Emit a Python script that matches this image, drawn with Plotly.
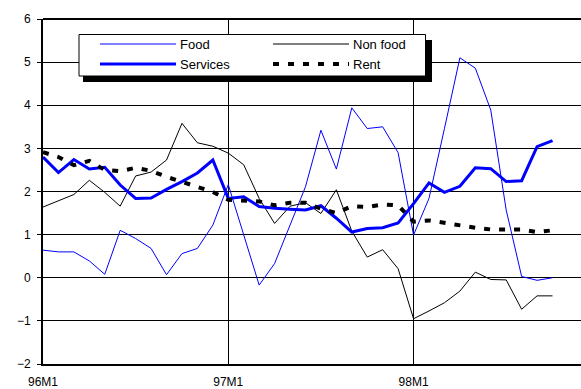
import plotly.graph_objects as go

# Monthly periods, 96M1 to 98M10
months = [
    "96M1", "96M2", "96M3", "96M4", "96M5", "96M6", "96M7", "96M8", "96M9", "96M10", "96M11", "96M12",
    "97M1", "97M2", "97M3", "97M4", "97M5", "97M6", "97M7", "97M8", "97M9", "97M10", "97M11", "97M12",
    "98M1", "98M2", "98M3", "98M4", "98M5", "98M6", "98M7", "98M8", "98M9", "98M10",
]

food = [0.64, 0.60, 0.60, 0.39, 0.08, 1.10, 0.91, 0.68, 0.07, 0.56, 0.68, 1.22,
        2.16, 0.99, -0.17, 0.33, 1.20, 2.11, 3.42, 2.52, 3.94, 3.46, 3.50, 2.90,
        0.99, 1.84, 3.46, 5.10, 4.86, 3.89, 1.57, 0.03, -0.06, 0.00]

non_food = [1.64, 1.78, 1.93, 2.26, 1.98, 1.66, 2.36, 2.45, 2.73, 3.58, 3.13, 3.05,
            2.89, 2.62, 1.84, 1.26, 1.66, 1.74, 1.49, 2.04, 1.08, 0.48, 0.65, 0.21,
            -0.95, -0.77, -0.58, -0.31, 0.13, -0.04, -0.05, -0.73, -0.42, -0.42]

services = [2.80, 2.44, 2.74, 2.52, 2.56, 2.15, 1.84, 1.85, 2.05, 2.23, 2.43, 2.73,
            1.84, 1.88, 1.65, 1.61, 1.59, 1.57, 1.67, 1.38, 1.06, 1.14, 1.16, 1.27,
            1.72, 2.20, 1.98, 2.12, 2.55, 2.53, 2.23, 2.25, 3.04, 3.18]

rent = [2.91, 2.80, 2.61, 2.71, 2.50, 2.47, 2.55, 2.48, 2.34, 2.23, 2.12, 1.99,
        1.81, 1.79, 1.77, 1.68, 1.74, 1.74, 1.60, 1.50, 1.66, 1.64, 1.70, 1.68,
        1.30, 1.33, 1.27, 1.22, 1.16, 1.12, 1.13, 1.12, 1.06, 1.10]

x_ticks = ["96M1", "97M1", "98M1"]
y_ticks = [-2, -1, 0, 1, 2, 3, 4, 5, 6]

series_names = ["Food", "Non food", "Services", "Rent"]
series_values = [food, non_food, services, rent]
series_styles = [
    dict(color="#0000FF", width=1, dash="solid"),
    dict(color="#000000", width=1, dash="solid"),
    dict(color="#0000FF", width=3, dash="solid"),
    dict(color="#000000", width=4, dash="6px,9px"),
]

FONT = "Liberation Sans, Arial, sans-serif"
W, H = 581, 389
ML, MT, MB, MR = 43, 19, 25, 0
PW, PH = W - ML - MR, H - MT - MB

fig = go.Figure()
for name, vals, style in zip(series_names, series_values, series_styles):
    fig.add_trace(go.Scatter(x=months, y=vals, mode="lines", name=name,
                             line=style, showlegend=False))


def px(xp):
    return (xp - ML) / PW


def py(yp):
    return (H - MB - yp) / PH


shapes = [
    # top frame edge of the plot area
    dict(type="line", xref="paper", yref="paper", x0=0, x1=1, y0=1, y1=1,
         line=dict(color="#000000", width=2), layer="below"),
    # framed key with drop shadow
    dict(type="rect", xref="paper", yref="paper", x0=px(83), x1=px(432), y0=py(82), y1=py(40),
         fillcolor="#000000", line=dict(width=0), layer="above"),
    dict(type="rect", xref="paper", yref="paper", x0=px(79), x1=px(425.5), y0=py(76), y1=py(34.5),
         fillcolor="#FFFFFF", line=dict(color="#000000", width=1), layer="above"),
]
key_pos = [(100, 44), (273, 44), (100, 64), (273, 64)]
annotations = []
for name, style, (kx, ky) in zip(series_names, series_styles, key_pos):
    shapes.append(dict(type="line", xref="paper", yref="paper", x0=px(kx), x1=px(kx + 76),
                       y0=py(ky), y1=py(ky), line=style, layer="above"))
    annotations.append(dict(xref="paper", yref="paper", x=px(kx + 78), y=py(ky), text=name,
                            showarrow=False, xanchor="left", yanchor="middle",
                            font=dict(family=FONT, size=13, color="#000000")))

fig.update_layout(
    width=W, height=H,
    margin=dict(l=ML, r=MR, t=MT, b=MB, pad=0),
    paper_bgcolor="#FFFFFF", plot_bgcolor="#FFFFFF",
    font=dict(family=FONT, size=12, color="#000000"),
    shapes=shapes, annotations=annotations,
    showlegend=False,
)
fig.update_xaxes(
    type="category", categoryorder="array", categoryarray=months,
    range=[0, (W - ML - MR) / 15.44],
    tickmode="array", tickvals=x_ticks, ticktext=x_ticks,
    showgrid=True, gridcolor="#000000", gridwidth=1,
    showline=True, linecolor="#000000", linewidth=2,
    ticks="", ticklabelstandoff=6,
    tickfont=dict(family=FONT, size=12, color="#000000"),
)
fig.update_yaxes(
    range=[-2, 6], tickmode="array", tickvals=y_ticks,
    showgrid=True, gridcolor="#000000", gridwidth=1, zeroline=False,
    showline=True, linecolor="#000000", linewidth=2,
    ticks="outside", ticklen=4, tickcolor="#000000", tickwidth=1,
    ticklabelstandoff=4,
    tickfont=dict(family=FONT, size=12, color="#000000"),
)

fig.write_html("out.html", config={"displayModeBar": False})
